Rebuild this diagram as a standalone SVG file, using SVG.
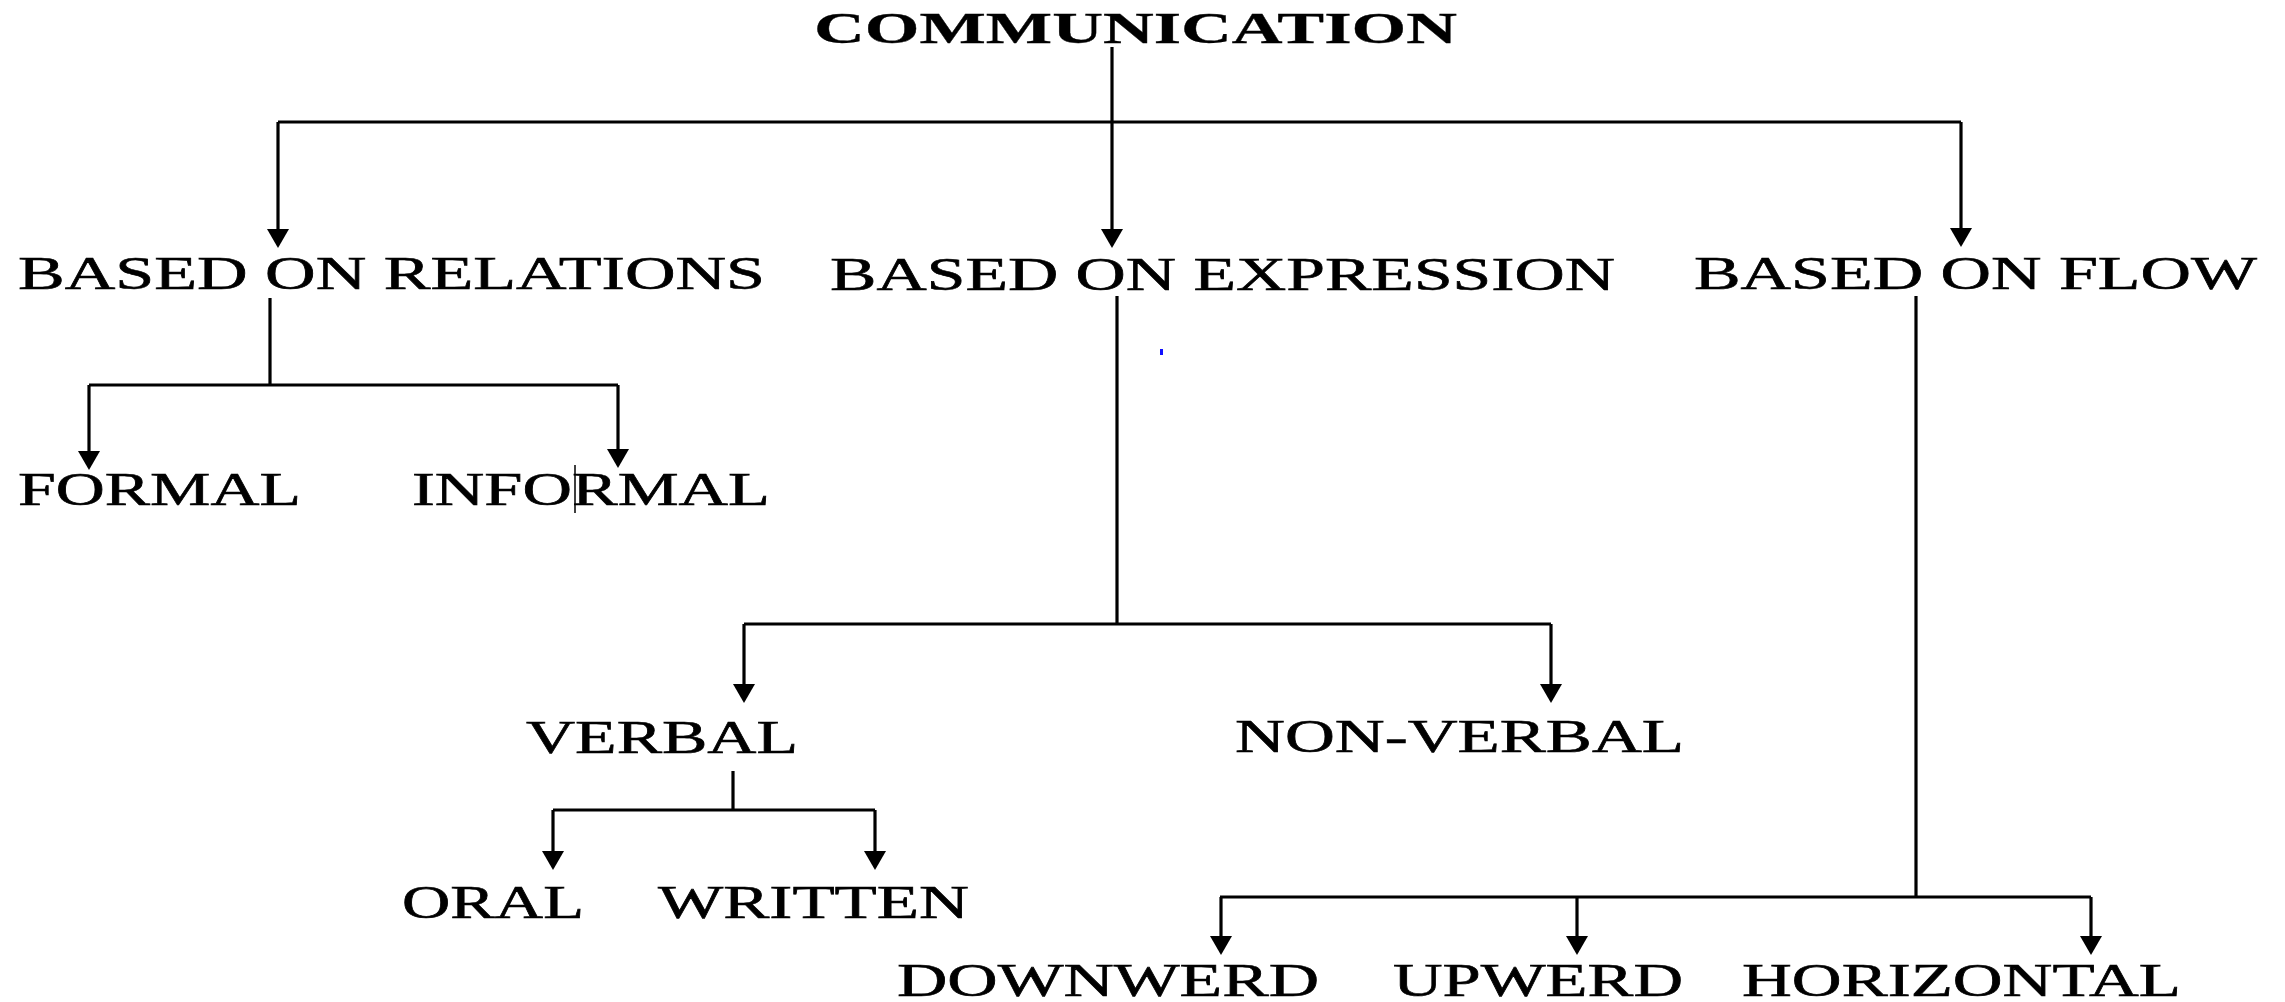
<svg xmlns="http://www.w3.org/2000/svg" width="2285" height="1002" viewBox="0 0 2285 1002">
  <style>
    .lbl { font-family: "Liberation Serif", "Times New Roman", serif; font-size: 47px; fill: #000; stroke: #000; stroke-width: 0.6; }
    .title { font-weight: bold; font-size: 45px; stroke-width: 0.3; }
    .wire { fill: none; stroke: #000; stroke-width: 3.2; }
    .arrow { fill: none; stroke: #000; stroke-width: 3.2; marker-end: url(#head); }
  </style>
  <defs>
    <marker id="head" markerUnits="userSpaceOnUse" viewBox="0 0 19 22" markerWidth="19" markerHeight="22" refX="8" refY="11" orient="auto">
      <path d="M0,0 L19,11 L0,22 z" fill="#000"/>
    </marker>
  </defs>
  <rect width="2285" height="1002" fill="#fff"/>

  <!-- connectors -->
  <g id="connectors">
    <!-- root split -->
    <line class="arrow" x1="1112" y1="47" x2="1112" y2="237"/>
    <polyline class="wire" points="278,122 1961,122"/>
    <line class="arrow" x1="278" y1="122" x2="278" y2="237"/>
    <line class="arrow" x1="1961" y1="122" x2="1961" y2="236"/>
    <!-- relations -->
    <line class="wire" x1="270" y1="298" x2="270" y2="385"/>
    <line class="wire" x1="89" y1="385" x2="618" y2="385"/>
    <line class="arrow" x1="89" y1="385" x2="89" y2="459"/>
    <line class="arrow" x1="618" y1="385" x2="618" y2="457"/>
    <!-- expression -->
    <line class="wire" x1="1117" y1="296" x2="1117" y2="624"/>
    <line class="wire" x1="744" y1="624" x2="1551" y2="624"/>
    <line class="arrow" x1="744" y1="624" x2="744" y2="692"/>
    <line class="arrow" x1="1551" y1="624" x2="1551" y2="692"/>
    <!-- verbal -->
    <line class="wire" x1="733" y1="771" x2="733" y2="810"/>
    <line class="wire" x1="553" y1="810" x2="875" y2="810"/>
    <line class="arrow" x1="553" y1="810" x2="553" y2="859"/>
    <line class="arrow" x1="875" y1="810" x2="875" y2="859"/>
    <!-- flow -->
    <line class="wire" x1="1916" y1="296" x2="1916" y2="897"/>
    <line class="wire" x1="1220" y1="897" x2="2091" y2="897"/>
    <line class="arrow" x1="1221" y1="897" x2="1221" y2="944"/>
    <line class="arrow" x1="1577" y1="897" x2="1577" y2="944"/>
    <line class="arrow" x1="2091" y1="897" x2="2091" y2="944"/>
  </g>

  <!-- nodes -->
  <g id="n-communication"><text class="lbl title" x="814" y="43" textLength="643" lengthAdjust="spacingAndGlyphs">COMMUNICATION</text></g>
  <g id="n-relations"><text class="lbl" x="18" y="289" textLength="747" lengthAdjust="spacingAndGlyphs">BASED ON RELATIONS</text></g>
  <g id="n-expression"><text class="lbl" x="830" y="290" textLength="785" lengthAdjust="spacingAndGlyphs">BASED ON EXPRESSION</text></g>
  <g id="n-flow"><text class="lbl" x="1694" y="289" textLength="563" lengthAdjust="spacingAndGlyphs">BASED ON FLOW</text></g>
  <g id="n-formal"><text class="lbl" x="18" y="505" textLength="283" lengthAdjust="spacingAndGlyphs">FORMAL</text></g>
  <g id="n-informal"><text class="lbl" x="412" y="505" textLength="358" lengthAdjust="spacingAndGlyphs">INFORMAL</text></g>
  <g id="n-verbal"><text class="lbl" x="526" y="753" textLength="272" lengthAdjust="spacingAndGlyphs">VERBAL</text></g>
  <g id="n-nonverbal"><text class="lbl" x="1235" y="752" textLength="449" lengthAdjust="spacingAndGlyphs">NON-VERBAL</text></g>
  <g id="n-oral"><text class="lbl" x="402" y="918" textLength="182" lengthAdjust="spacingAndGlyphs">ORAL</text></g>
  <g id="n-written"><text class="lbl" x="658" y="918" textLength="311" lengthAdjust="spacingAndGlyphs">WRITTEN</text></g>
  <g id="n-downwerd"><text class="lbl" x="897" y="996" textLength="422" lengthAdjust="spacingAndGlyphs">DOWNWERD</text></g>
  <g id="n-upwerd"><text class="lbl" x="1393" y="996" textLength="290" lengthAdjust="spacingAndGlyphs">UPWERD</text></g>
  <g id="n-horizontal"><text class="lbl" x="1742" y="996" textLength="439" lengthAdjust="spacingAndGlyphs">HORIZONTAL</text></g>

  <!-- stray marks -->
  <line x1="575" y1="465" x2="575" y2="513" stroke="#000" stroke-width="1.5"/>
  <rect x="1160" y="349" width="3" height="6" fill="#1010ff"/>
</svg>
